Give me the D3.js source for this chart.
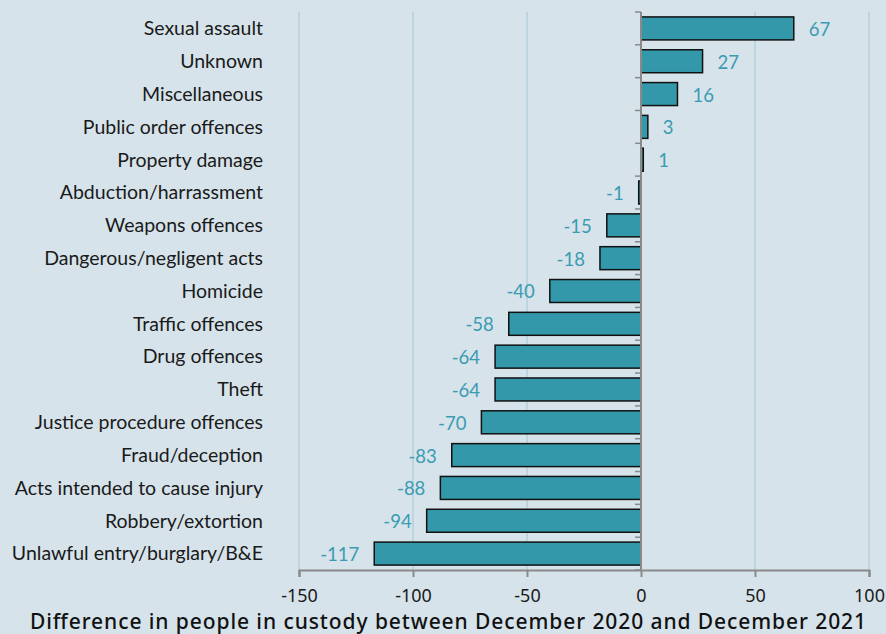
<!DOCTYPE html>
<html>
<head>
<meta charset="utf-8">
<script src="https://cdn.jsdelivr.net/npm/d3@7"></script>
<style>
  body { margin: 0; background: #d6e3ea; }
  svg { display: block; }
</style>
</head>
<body>
<svg></svg>
<script>
const categories = ["Sexual assault", "Unknown", "Miscellaneous", "Public order offences", "Property damage",
  "Abduction/harrassment", "Weapons offences", "Dangerous/negligent acts", "Homicide", "Traffic offences",
  "Drug offences", "Theft", "Justice procedure offences", "Fraud/deception", "Acts intended to cause injury",
  "Robbery/extortion", "Unlawful entry/burglary/B&E"];
const values = [67, 27, 16, 3, 1, -1, -15, -18, -40, -58, -64, -64, -70, -83, -88, -94, -117];
const xTicks = [-150, -100, -50, 0, 50, 100];
const xTitle = "Difference in people in custody between December 2020 and December 2021";

const width = 886, height = 634;
const margin = {top: 12, left: 299, right: 17, bottom: 64};

const svg = d3.select("svg").attr("width", width).attr("height", height);
svg.append("rect").attr("width", width).attr("height", height).attr("fill", "#d6e3ea");

const x = d3.scaleLinear().domain([-150, 100]).range([margin.left, width - margin.right]);
const y = d3.scaleBand().domain(categories).range([margin.top, height - margin.bottom]).paddingInner(0.3).paddingOuter(0.15);

// gridlines
svg.append("g").selectAll("line")
  .data(xTicks.filter(d => d !== 0))
  .join("line")
  .attr("x1", d => x(d)).attr("x2", d => x(d))
  .attr("y1", margin.top).attr("y2", height - margin.bottom)
  .attr("stroke", "#b3d0dd").attr("stroke-width", 1.5);

// bars
svg.append("g").selectAll("rect")
  .data(values)
  .join("rect")
  .attr("x", d => x(Math.min(0, d)))
  .attr("width", d => Math.abs(x(d) - x(0)))
  .attr("y", (d, i) => y(categories[i]))
  .attr("height", y.bandwidth())
  .attr("fill", "#3498ab")
  .attr("stroke", "#111").attr("stroke-width", 1.5);

// zero axis with category ticks
const step = y.step();
const zero = svg.append("g");
zero.append("line")
  .attr("x1", x(0)).attr("x2", x(0))
  .attr("y1", margin.top).attr("y2", height - margin.bottom)
  .attr("stroke", "#8a8a8a").attr("stroke-width", 2);
zero.selectAll("line.t")
  .data(d3.range(categories.length + 1))
  .join("line").attr("class", "t")
  .attr("x1", x(0) - 6).attr("x2", x(0))
  .attr("y1", i => margin.top + i * step).attr("y2", i => margin.top + i * step)
  .attr("stroke", "#8a8a8a").attr("stroke-width", 1.5);

// bottom axis
const xAxis = d3.axisBottom(x).tickValues(xTicks).tickSize(7).tickPadding(12).tickFormat(d3.format("d"));
const gx = svg.append("g").attr("transform", `translate(0,${height - margin.bottom})`).call(xAxis);
gx.select(".domain").attr("stroke", "#8a8a8a").attr("stroke-width", 2);
gx.selectAll(".tick line").attr("stroke", "#8a8a8a").attr("stroke-width", 2);
gx.selectAll(".tick text").attr("fill", "#1a1a1a").attr("font-family", "'Noto Sans', sans-serif").attr("font-size", 18)
  .text(d => d < 0 ? "-" + Math.abs(d) : d);

// category labels
svg.append("g").selectAll("text")
  .data(categories)
  .join("text")
  .attr("x", 263)
  .attr("y", d => y(d) + y.bandwidth() / 2)
  .attr("dy", "0.35em")
  .attr("text-anchor", "end")
  .attr("font-family", "Lato, 'Open Sans', sans-serif")
  .attr("font-size", 19.5)
  .attr("fill", "#1a1a1a")
  .text(d => d);

// value labels
svg.append("g").selectAll("text")
  .data(values)
  .join("text")
  .attr("x", d => d >= 0 ? x(d) + 15 : x(d) - 15)
  .attr("y", (d, i) => y(categories[i]) + y.bandwidth() / 2 + 1)
  .attr("dy", "0.35em")
  .attr("text-anchor", d => d >= 0 ? "start" : "end")
  .attr("font-family", "Lato, 'Open Sans', sans-serif")
  .attr("font-size", 18.5)
  .attr("fill", "#3a9bb2")
  .text(d => d < 0 ? "-" + Math.abs(d) : d);

// axis title
svg.append("text")
  .attr("x", 448).attr("y", 629)
  .attr("text-anchor", "middle")
  .attr("font-family", "'Noto Sans', sans-serif")
  .attr("font-weight", 500)
  .attr("font-size", 21)
  .attr("fill", "#111")
  .attr("textLength", 836)
  .attr("lengthAdjust", "spacing")
  .text(xTitle);
</script>
</body>
</html>
